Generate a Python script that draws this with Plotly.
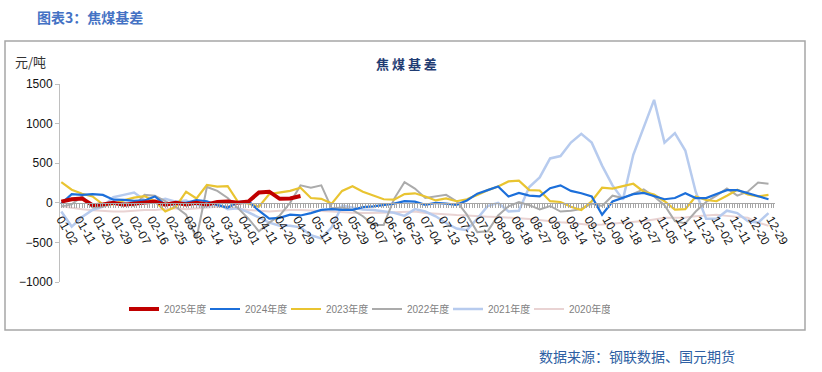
import plotly.graph_objects as go

# ---------------- data ----------------
tick_labels = ["01-02", "01-11", "01-20", "01-29", "02-07", "02-16", "02-25", "03-05",
               "03-14", "03-23", "04-01", "04-11", "04-20", "04-29", "05-11", "05-20",
               "05-29", "06-07", "06-16", "06-25", "07-04", "07-13", "07-22", "07-31",
               "08-09", "08-18", "08-27", "09-05", "09-14", "09-23", "10-09", "10-18",
               "10-27", "11-05", "11-14", "11-23", "12-02", "12-11", "12-20", "12-29"]
N_DAYS = 275          # trading-day slots on the x axis
LABEL_EVERY = 7       # one label every 7 trading days
SAMPLE_EVERY = 4      # values read every 4 trading days

y2025 = [15, 45, 55, -30, -20, 0, -25, -10, 0, 15, -25, 0, -20, 0, -20, 10, 15, 0, 17,
         130, 140, 50, 55, 85]

y2024 = [-10, 110, 100, 110, 100, 40, 38, 25, 30, 80, -25, 0, 0, 35, 20, -30, -60, 10,
         20, -100, -200, -190, -150, -160, -130, -90, -80, -90, -90, -55, -45, -25, -10,
         20, 15, -25, 0, -10, -25, 30, 115, 160, 206, 80, 125, 90, 80, 185, 220, 150, 120,
         80, -150, 17, 60, 110, 125, 85, 45, 60, 120, 60, 60, 110, 160, 160, 120, 85, 45]

y2023 = [260, 165, 115, 80, -20, -20, 30, 65, 85, 20, -110, -50, 140, 55, 225, 205, 210,
         10, -10, -50, 110, 130, 150, 190, 60, 50, -10, 150, 210, 140, 90, 45, 40, 110,
         120, 80, 30, 55, 20, 45, 100, 160, 205, 270, 280, 160, 155, 20, 10, -50, -90, 20,
         190, 180, 210, 240, 140, 105, 20, -85, -80, 80, 35, 20, 90, 165, 105, 80, 100]

y2022 = [-45, -20, 80, -60, -50, -10, 0, -40, 100, 90, 20, -50, -150, -450, 200, 150, 60,
         -70, -200, -360, -250, -160, 0, 220, 190, 220, -70, -60, -90, -170, -280, -280,
         50, 260, 180, 60, 80, 100, 20, -150, -370, -360, -160, -45, 10, -30, -85, -40,
         -110, -100, -80, -10, -40, 90, 60, 110, 170, 80, -30, -230, -260, -110, 10, 90,
         180, 90, 140, 255, 240]

y2021 = [-110, -300, -180, -90, -50, 70, 100, 130, 35, 20, 50, 15, 30, -25, -45, -10, -80,
         -70, -120, -190, -250, -290, -290, -310, -410, -450, -310, -35, -60, -85, -90,
         -105, -125, -165, -80, -110, -170, -255, -325, -345, -200, -40, 0, -110, -100,
         200, 320, 560, 590, 760, 870, 760, 470, 220, 40, 606, 950, 1300, 760, 880, 660,
         140, -200, -200, -100, -130, -230, -250, -130]

y2020 = [-45, -65, -80, -95, -105, -110, -110, -100, -90, -90, -80, -70, -80, -70, -55,
         -50, -45, -75, -90, -100, -110, -100, -90, -90, -100, -105, -110, -120, -125,
         -130, -130, -125, -120, -115, -110, -130, -140, -150, -155, -160, -170, -175,
         -180, -185, -195, -205, -220, -235, -245, -255, -270, -280, -275, -265, -255,
         -245, -230, -210, -190, -190, -185, -170, -160, -150, -165, -175, -190, -250, -290]

series = [
    ("2020年度", y2020, "#E9D3D3", 2),
    ("2021年度", y2021, "#B7CBEE", 2.5),
    ("2022年度", y2022, "#ABABAB", 2),
    ("2023年度", y2023, "#E9C431", 2.2),
    ("2024年度", y2024, "#1C6FDA", 2.2),
    ("2025年度", y2025, "#C00000", 4),
]

# ---------------- figure ----------------
fig = go.Figure()
for name, vals, color, width in series:
    xs = [i * SAMPLE_EVERY for i in range(len(vals))]
    fig.add_trace(go.Scatter(x=xs, y=vals, mode="lines", name=name,
                             line=dict(color=color, width=width)))

tickvals = list(range(N_DAYS))
ticktext = [""] * N_DAYS
for k, lab in enumerate(tick_labels):
    ticktext[k * LABEL_EVERY] = lab

# plot area in pixels
L, R, T, B = 60, 775, 84, 282
W, H = 822, 372


def px(x):
    return (x - L) / (R - L)


def py(y):
    return (B - y) / (B - T)


Y_MIN, Y_MAX = -1000, 1500

fig.update_layout(
    width=W, height=H,
    margin=dict(l=L, r=W - R, t=T, b=H - B),
    paper_bgcolor="white", plot_bgcolor="white",
    showlegend=True,
    legend=dict(orientation="h", x=px(124), xanchor="left", y=py(309), yanchor="middle",
                traceorder="reversed", itemwidth=30, entrywidth=36,
                font=dict(family="Liberation Sans, Noto Sans CJK SC", size=10, color="#7F7F7F"),
                bgcolor="rgba(0,0,0,0)"),
    xaxis=dict(range=[-0.5, N_DAYS - 0.5], tickmode="array", tickvals=tickvals,
               ticktext=ticktext, tickangle=60, anchor="free",
               position=(0 - Y_MIN) / (Y_MAX - Y_MIN),
               showline=True, linecolor="#A6A6A6", linewidth=1,
               ticks="outside", ticklen=4, tickcolor="#A6A6A6", tickwidth=1,
               showgrid=False, zeroline=False,
               tickfont=dict(family="Liberation Sans", size=12, color="#111111")),
    yaxis=dict(range=[Y_MIN, Y_MAX], dtick=500, showline=True, linecolor="#BFBFBF",
               linewidth=1, ticks="outside", ticklen=4, tickcolor="#BFBFBF",
               showgrid=False, zeroline=False,
               tickfont=dict(family="Liberation Sans", size=12, color="#111111")),
)

# outer frame
fig.add_shape(type="rect", xref="paper", yref="paper",
              x0=px(5), x1=px(805), y0=py(330), y1=py(41),
              line=dict(color="#A6A6A6", width=1.5), fillcolor="rgba(0,0,0,0)", layer="below")

# texts
fig.add_annotation(text="<b>图表3：焦煤基差</b>", xref="paper", yref="paper",
                   x=px(35), y=py(17), xanchor="left", yanchor="middle", showarrow=False,
                   font=dict(family="Noto Sans CJK SC", size=14, color="#4472C4"))
fig.add_annotation(text="<b>焦 煤 基 差</b>", xref="paper", yref="paper",
                   x=px(406), y=py(63), xanchor="center", yanchor="middle", showarrow=False,
                   font=dict(family="Noto Sans CJK SC", size=13, color="#1F3C73"))
fig.add_annotation(text="元/吨", xref="paper", yref="paper",
                   x=px(13), y=py(61), xanchor="left", yanchor="middle", showarrow=False,
                   font=dict(family="Noto Sans CJK SC", size=13, color="#333333"))
fig.add_annotation(text="数据来源：钢联数据、国元期货", xref="paper", yref="paper",
                   x=px(537), y=py(356), xanchor="left", yanchor="middle", showarrow=False,
                   font=dict(family="Noto Sans CJK SC", size=14, color="#2E5FA3"))

fig.write_html("out.html", config={"displayModeBar": False},
               post_script="document.body.style.margin='0';")
